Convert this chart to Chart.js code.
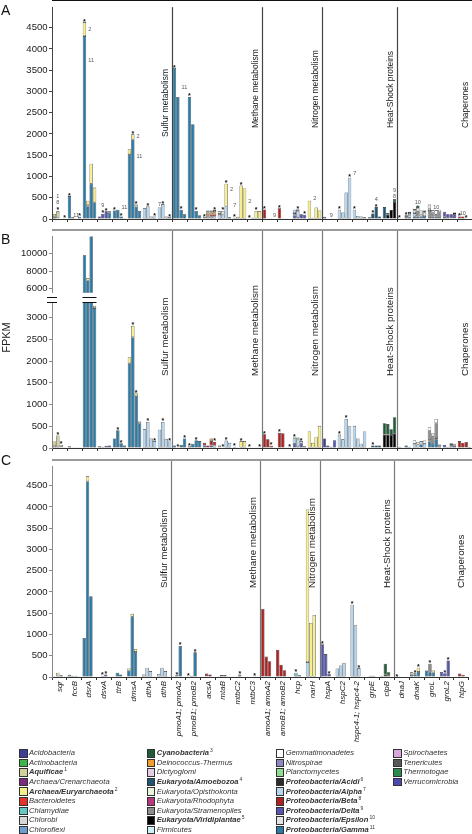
<!DOCTYPE html>
<html><head><meta charset="utf-8">
<script src="https://cdn.jsdelivr.net/npm/chart.js@4.4.1/dist/chart.umd.min.js"></script>
<style>
html,body{margin:0;padding:0;background:#fff}
body{width:472px;height:834px;position:relative;overflow:hidden;font-family:"Liberation Sans",Arial,Helvetica,sans-serif;color:#222}
canvas{position:absolute;left:0}
.pl{position:absolute;font-size:14px;line-height:14px;color:#111}
#fpkm{position:absolute;font-size:11px;line-height:11px;left:-11px;top:332px;width:34px;text-align:center;transform:rotate(-90deg)}
.lg{position:absolute;font-size:7.6px;line-height:9px;font-style:italic;color:#333;white-space:nowrap}
.sw{position:absolute;width:6.5px;height:6.5px;border:0.8px solid #333}
.lg sup{font-size:5px;vertical-align:3px;line-height:0;font-style:normal;font-weight:normal;margin-left:1px}
</style></head>
<body>
<canvas id="cA" width="472" height="229" style="top:0px"></canvas>
<canvas id="cBu" width="472" height="71" style="top:229px"></canvas>
<canvas id="cBl" width="472" height="230" style="top:229px"></canvas>
<canvas id="cC" width="472" height="290" style="top:459px"></canvas>
<div class="pl" style="left:1px;top:3px">A</div>
<div class="pl" style="left:1px;top:232px">B</div>
<div class="pl" style="left:1px;top:453px">C</div>
<div id="fpkm">FPKM</div>
<div id="legend"></div>
<script>
const FONT = '"Liberation Sans", Arial, Helvetica, sans-serif';

// ---------- categories ----------
const genes = ['sqr','fccB','dsrA','dsvA','ttrB','dmsA','dthA','dthB','pmoA1; pmoA2','pmoB1; pmoB2','acsA','mtaB','mtbC2','mtbC3','amoA1; amoA2','amoB1; amoB2','hcp','narH','hspA','hspC2','hspc4-1; hspc4-2','grpE','clpB','dnaJ','dnaK','groL','groL2','htpG'];
const sections = ['Sulfur metabolism','Methane metabolism','Nitrogen metabolism','Heat-Shock proteins','Chaperones'];
const sectionEnds = [8,14,18,23,28];

// ---------- tick labels ----------
const ticksA = [0,500,1000,1500,2000,2500,3000,3500,4000,4500];
const ticksBlow = [0,500,1000,1500,2000,2500,3000];
const ticksBup = [6000,8000,10000];
const ticksC = [0,500,1000,1500,2000,2500,3000,3500,4000,4500];

// ---------- taxa (legend) ----------
const taxKeys = ['aci','act','aqu','cre','eur','bac','chl','cho','chf','cya','dei','dic','amo','opi','rho','str','vir','fir','gem','nit','pla','pac','alp','bet','del','eps','gam','spi','ten','the','ver'];
const taxNames = ['Acidobacteria','Actinobacteria','Aquificae','Archaea/Crenarchaeota','Archaea/Euryarchaeota','Bacteroidetes','Chlamydiae','Chlorobi','Chloroflexi','Cyanobacteria','Deinococcus-Thermus','Dictyoglomi','Eukaryota/Amoebozoa','Eukaryota/Opisthokonta','Eukaryota/Rhodophyta','Eukaryota/Stramenopiles','Eukaryota/Viridiplantae','Firmicutes','Gemmatimonadetes','Nitrospirae','Planctomycetes','Proteobacteria/Acidi','Proteobacteria/Alpha','Proteobacteria/Beta','Proteobacteria/Delta','Proteobacteria/Epsilon','Proteobacteria/Gamma','Spirochaetes','Tenericutes','Thermotogae','Verrucomicrobia'];
const taxSup = ['','','1','','2','','','','','3','','','4','','','','5','','','','','6','7','8','9','10','11','','','',''];
const taxColors = ['#3b3d96','#3cb54b','#d4d09c','#7b2a80','#f7ef8a','#e3342b','#62c9c5','#d7d7d7','#6e9ecd','#1f5c35','#f39b2d','#e5cee5','#1e5472','#eaf5dd','#b8377f','#8c8c8c','#000000','#cdeff8','#ffffff','#8d88c3','#90dc90','#2b2b2b','#b7d6ef','#b12020','#5654b3','#e4e4e4','#2b7ba7','#dba4dd','#595959','#2b8b4e','#4b4ab1'];
const stackOrder = ['gam','amo','vir','pac','aci','del','nit','alp','bet','bac','dei','str','gem','eps','chl','pla','aqu','cya','eur'];

// ---------- Panel A values (per gene: 4 samples) ----------
const A_gam = [[40,10,10,5],[540,40,10,50],[4300,300,830,390],[0,0,0,150],[200,220,60,20],[1520,1870,290,190],0,0,[3550,2870,220,110],[2870,2230,190,90],0,0,0,0,0,0,0,0,0,0,0,0,0,[10,20,40,30],[60,60,50,70],[40,50,50,40],[50,30,20,20],0];
const A_eur = [[0,20,0,0],0,[330,90,470,350],0,0,[120,120,40,0],0,0,0,0,0,[0,0,530,40],[20,40,790,720],[10,30,190,180],0,0,0,[430,30,270,200],0,0,0,0,0,0,0,0,0,0];
const A_aqu = [[60,150,0,0],0,[0,40,0,0],0,0,[0,0,10,0],0,0,0,0,0,0,0,0,0,0,0,0,0,0,0,0,0,0,0,0,0,0];
const A_eps = [[20,10,0,0],0,0,0,0,0,0,0,0,0,0,[60,90,0,0],0,0,0,0,[0,40,0,0],0,0,0,0,0,0,[0,0,0,50],[60,80,100,80],[100,60,0,60],0,0];
const A_del = [0,0,0,[60,120,180,30],0,0,0,0,0,0,0,0,0,0,0,0,[80,40,110,100],0,[50,10,20,10],0,0,0,0,0,0,0,[120,80,90,100],0];
const A_alp = [0,0,0,0,0,0,[250,300,60,60],[270,350,60,40],0,0,[0,50,50,60],[100,100,300,0],[10,10,0,0],0,0,0,[80,150,0,0],0,0,[220,150,625,970],[220,70,60,40],0,0,[0,0,30,60],[80,0,50,0],0,0,0];
const A_bet = [0,0,0,0,0,0,0,0,0,0,[0,0,50,0],0,0,0,[225,15,15,10],[250,20,15,10],0,0,0,0,0,0,0,0,0,0,0,[60,60,20,10]];
const A_bac = [0,0,0,0,0,0,0,0,0,0,[20,40,0,40],0,0,0,0,0,0,0,0,0,0,0,0,0,0,0,0,0];
const A_dei = [0,0,0,0,0,0,0,0,0,0,[20,60,50,60],0,0,0,0,0,0,0,0,0,0,0,0,0,0,0,0,0];
const A_str = [0,0,0,0,0,0,0,0,0,0,[0,50,50,50],[20,0,0,0],0,0,0,0,0,0,0,0,0,0,0,0,[0,120,0,0],[150,100,60,120],0,0];
const A_nit = [0,0,0,0,0,0,0,0,0,0,0,0,0,0,0,0,[60,0,0,0],0,0,0,0,0,0,0,0,0,0,0];
const A_amo = [0,0,0,0,0,0,0,0,0,0,0,0,0,0,0,0,0,0,0,0,0,[40,130,280,60],[280,0,0,0],0,0,0,0,0];
const A_vir = [0,0,0,0,0,0,0,0,0,0,0,0,0,0,0,0,0,0,0,0,0,0,[0,100,210,400],0,0,0,0,0];
const A_cya = [0,0,0,0,0,0,0,0,0,0,0,0,0,0,0,0,0,0,0,0,0,0,[0,40,0,70],[0,0,20,30],[40,60,0,50],0,[0,0,0,30],0];
const A_gem = [0,0,0,0,0,0,0,0,0,0,0,0,0,0,0,0,0,0,0,0,0,0,0,0,0,[50,0,100,0],0,0];

// ---------- Panel B values ----------
const B_gam = [[0,0,20,20],[40,15,20,20],[9785,6930,11950,3220],0,[220,410,110,60],[1950,2550,1200,570],0,0,[60,20,70,220],[40,100,180,160],0,[20,0,0,0],0,[10,10,20,20],0,0,0,0,0,0,0,0,0,[30,20,60,30],[0,0,80,0],[150,100,200,40],0,0];
const B_eur = [0,0,[0,250,0,50],0,0,[140,260,60,40],0,0,0,0,0,0,[0,0,160,160],0,0,0,0,[380,120,260,510],0,0,0,0,0,0,0,0,0,0];
const B_aqu = [[100,250,50,0],0,0,0,0,0,0,0,0,0,0,0,0,0,0,0,0,0,0,0,0,0,0,0,0,0,0,0];
const B_eps = [[50,40,0,0],0,0,0,0,0,0,0,0,0,0,0,0,0,0,0,0,0,0,0,0,0,0,0,[0,60,0,0],[0,80,0,0],0,0];
const B_del = [0,0,0,[40,30,50,60],0,0,0,0,0,0,[60,0,60,0],0,0,0,0,0,[100,40,100,40],0,[0,60,30,180],0,0,0,0,0,0,0,[70,30,40,50],0];
const B_aci = [0,0,0,0,0,0,0,0,0,0,0,0,0,0,0,0,0,0,[220,0,0,0],0,0,0,0,0,0,0,0,0];
const B_alp = [0,0,0,0,0,0,[430,600,220,160],[420,600,210,150],0,0,[0,0,0,60],[40,20,170,120],[30,20,0,0],0,0,0,[120,150,60,0],0,0,[310,200,670,500],[510,220,100,380],0,0,0,[100,80,80,100],0,0,0];
const B_bet = [0,0,0,0,0,0,0,0,0,0,[60,60,100,80],0,0,0,[315,200,50,20],[350,340,20,20],0,0,0,0,0,0,0,0,0,0,0,[160,120,140,0]];
const B_bac = [0,0,0,0,0,0,0,0,0,0,0,0,0,0,0,0,[20,0,0,0],0,0,0,0,0,0,0,0,[30,0,30,0],0,0];
const B_dei = [0,0,0,0,0,0,0,0,0,0,[0,0,60,0],0,0,0,0,0,0,0,0,0,0,0,0,0,0,0,0,[0,0,0,30]];
const B_pla = [0,0,0,0,0,0,0,0,0,0,0,0,0,0,0,0,[0,50,0,0],0,0,0,0,0,0,0,0,0,0,0];
const B_amo = [0,0,0,0,0,0,0,0,0,0,0,0,0,0,0,0,0,0,0,0,0,[20,60,60,60],0,0,0,0,0,0];
const B_vir = [0,0,0,0,0,0,0,0,0,0,0,0,0,0,0,0,0,0,0,0,0,0,[310,310,300,330],0,0,0,0,0];
const B_cya = [0,0,0,0,0,0,0,0,0,0,0,0,0,0,0,0,0,0,0,0,0,0,[260,240,130,380],0,0,0,[0,0,40,20],0];
const B_str = [0,0,0,0,0,0,0,0,0,0,0,0,0,0,0,0,0,0,0,0,0,0,0,0,0,[220,160,340,40],0,0];
const B_gem = [0,0,0,0,0,0,0,0,0,0,0,0,0,0,0,0,0,0,0,0,0,0,0,0,[80,0,0,70],[80,0,100,0],[0,0,30,30],0];

// ---------- Panel C values ----------
const C_gam = [0,[55,30,30,20],[920,4600,1900,0],0,[20,100,60,10],[150,1420,590,0],0,0,[5,40,730,10],[5,30,580,10],0,0,0,[0,0,5,0],0,0,0,0,0,0,0,0,0,[0,10,10,0],[50,60,120,0],[150,110,100,0],0,0];
const C_eur = [0,0,[0,120,0,0],0,0,[50,65,70,0],0,0,0,0,0,0,0,0,0,0,0,[3590,1270,1460,0],0,0,0,0,0,0,[0,0,100,0],[0,0,50,0],0,0];
const C_aqu = [[20,100,40,10],0,0,0,0,0,0,0,0,0,0,0,[5,20,40,10],0,0,0,0,0,0,0,0,0,0,0,[60,0,0,0],0,0,0];
const C_del = [0,0,0,[10,30,60,10],0,0,0,0,0,0,[0,20,10,0],0,0,0,0,0,0,0,[770,540,70,0],0,0,0,0,0,0,0,[120,90,390,0],0];
const C_alp = [0,0,0,0,0,0,[60,220,140,20],[70,220,140,20],0,0,0,0,0,0,0,0,0,[350,0,0,0],0,[200,270,330,0],[1700,1220,210,0],0,0,0,0,0,0,0];
const C_bet = [0,0,0,0,0,0,0,0,0,0,[10,60,50,10],0,0,0,[1600,480,370,0],[640,290,160,0],0,0,0,0,0,0,0,0,0,0,0,[0,80,50,20]];
const C_str = [0,0,0,0,0,0,0,0,0,0,0,[5,45,45,5],0,0,0,0,0,0,0,0,0,0,0,0,0,[0,200,0,0],0,0];
const C_eps = [0,0,0,0,0,0,0,0,0,0,0,0,0,0,0,0,0,0,0,0,0,0,0,0,[0,30,0,0],0,0,0];
const C_chl = [0,0,0,0,0,0,0,0,0,0,0,0,0,0,0,0,[0,100,40,0],0,0,0,0,0,0,0,0,0,0,0];
const C_amo = [0,0,0,0,0,0,0,0,0,0,0,0,0,0,0,0,0,0,0,0,0,[10,30,30,10],0,0,0,0,0,0];
const C_vir = [0,0,0,0,0,0,0,0,0,0,0,0,0,0,0,0,0,0,0,0,0,0,[30,50,40,10],0,0,0,0,0];
const C_cya = [0,0,0,0,0,0,0,0,0,0,0,0,[0,0,20,0],0,0,0,0,0,0,0,0,0,[0,260,70,0],0,0,0,0,0];

// ---------- annotations: [gene, sample, lines above bar] / [gene, sample, text, value] ----------
const A_marks = [[0,1,['1','8','*']],[0,3,['*']],[1,0,['*']],[1,2,['11']],[1,3,['*']],[2,0,['*']],[3,1,['9','*']],[3,2,['*']],[4,0,['*']],[4,2,['*']],[5,1,['*']],[5,2,['*']],[6,1,['*']],[6,3,['*']],[7,0,['7']],[7,1,['*']],[7,3,['*']],[8,0,['*']],[8,2,['*']],[9,0,['*']],[9,2,['*']],[10,0,['*']],[10,3,['*']],[11,1,['*']],[11,2,['*']],[12,0,['*']],[12,2,['*']],[13,0,['*']],[13,2,['*']],[14,0,['*']],[14,3,['9']],[15,0,['*']],[16,1,['*']],[16,3,['*']],[18,2,['9']],[19,0,['*']],[19,3,['*']],[20,0,['*']],[21,1,['*']],[21,2,['4','*']],[22,3,['9','8']],[23,0,['*']],[23,2,['*']],[24,1,['10']],[25,2,['10']],[27,0,['*']],[27,1,['10']],[27,2,['*']]];
const A_side = [[2,0,'2',4450],[2,0,'11',3730],[4,1,'11',260],[5,1,'2',1930],[5,1,'11',1460],[8,1,'11',3100],[11,2,'2',700],[11,3,'7',320],[12,3,'2',420],[17,0,'2',480],[19,3,'7',1080]];
const B_marks = [[0,1,['*']],[0,2,['*']],[4,1,['*']],[4,2,['*']],[5,1,['*']],[5,2,['*']],[6,1,['*']],[6,3,['*']],[7,1,['*']],[7,3,['*']],[8,1,['*']],[8,3,['*']],[9,0,['*']],[9,2,['*']],[10,3,['*']],[11,1,['*']],[11,2,['*']],[12,0,['*']],[12,2,['*']],[13,0,['*']],[13,3,['*']],[14,0,['*']],[14,2,['*']],[15,0,['*']],[15,3,['*']],[16,0,['*']],[16,2,['*']],[19,0,['*']],[19,2,['*']],[21,1,['*']]];
const C_marks = [[3,1,['*']],[3,2,['*']],[8,1,['*']],[8,2,['*']],[9,0,['*']],[9,2,['*']],[12,2,['*']],[13,2,['*']],[16,1,['*']],[18,0,['*']],[18,2,['*']],[20,0,['*']],[20,2,['*']],[23,0,['*']],[24,1,['*']],[24,2,['*']],[25,1,['*']],[26,1,['*']],[26,2,['*']]];

// ---------- build ----------
const panelA = {gam:A_gam,eur:A_eur,aqu:A_aqu,eps:A_eps,del:A_del,alp:A_alp,bet:A_bet,bac:A_bac,dei:A_dei,str:A_str,nit:A_nit,amo:A_amo,vir:A_vir,cya:A_cya,gem:A_gem};
const panelB = {gam:B_gam,eur:B_eur,aqu:B_aqu,eps:B_eps,del:B_del,aci:B_aci,alp:B_alp,bet:B_bet,bac:B_bac,dei:B_dei,pla:B_pla,amo:B_amo,vir:B_vir,cya:B_cya,str:B_str,gem:B_gem};
const panelC = {gam:C_gam,eur:C_eur,aqu:C_aqu,del:C_del,alp:C_alp,bet:C_bet,str:C_str,eps:C_eps,chl:C_chl,amo:C_amo,vir:C_vir,cya:C_cya};

const col = k => taxColors[taxKeys.indexOf(k)];
function cell(arr,g,s){ const v = arr[g]; return v ? v[s] : 0; }
function buildDatasets(panel){
  const ds=[];
  stackOrder.forEach(k=>{
    if(!panel[k]) return;
    for(let s=0;s<4;s++){
      ds.push({label:k, stack:'s'+s,
        data: genes.map((_,g)=>{const v=cell(panel[k],g,s); return v>0?v:null;}),
        backgroundColor: col(k), borderColor:'#2a2a2a', borderWidth:0.6, borderSkipped:false,
        categoryPercentage:0.9, barPercentage:1.0, clip:0});
    }
  });
  return ds;
}
function total(panel,g,s){ let t=0; for(const k in panel) t+=cell(panel[k],g,s); return t; }

const decor = {
  id:'decor',
  afterDraw(chart, args, o){
    const ctx=chart.ctx, ca=chart.chartArea, xs=chart.scales.x, ys=chart.scales.y;
    const slot = xs.getPixelForValue(1)-xs.getPixelForValue(0);
    const bound = i => xs.getPixelForValue(i-1)+slot/2;
    ctx.save();
    if(o.topLine){
      ctx.strokeStyle=o.topLine.color; ctx.lineWidth=o.topLine.width;
      ctx.beginPath(); ctx.moveTo(ca.left, o.topLine.y); ctx.lineTo(chart.width, o.topLine.y); ctx.stroke();
    }
    if(o.divColor){
      ctx.strokeStyle=o.divColor; ctx.lineWidth=1.2;
      const top = (o.divTop!=null)?o.divTop:ca.top;
      sectionEnds.slice(0,-1).forEach(e=>{ const x=Math.round(bound(e))+0.5;
        ctx.beginPath(); ctx.moveTo(x, top); ctx.lineTo(x, ca.bottom); ctx.stroke(); });
    }
    if(o.labels){
      ctx.fillStyle='#1a1a1a'; ctx.font = o.labels.size+'px '+FONT; ctx.textAlign='left'; ctx.textBaseline='alphabetic';
      sections.forEach((t,i)=>{ const x=bound(sectionEnds[i])-4.5; const y=o.labels.bottom[i];
        ctx.save(); ctx.translate(x,y); ctx.rotate(-Math.PI/2); ctx.fillText(t,0,0); ctx.restore(); });
    }
    if(o.marks){
      const panel=o.panel;
      o.marks.forEach(([g,s,lines])=>{
        const di = chart.data.datasets.findIndex(d=>d.stack==='s'+s);
        const x = chart.getDatasetMeta(di).data[g].x;
        let y = ys.getPixelForValue(total(panel,g,s)) - 1.5;
        for(let j=lines.length-1;j>=0;j--){
          const t=lines[j];
          if(t==='*'){ ctx.fillStyle='#111'; ctx.font='bold 7px '+FONT; ctx.textAlign='center'; ctx.textBaseline='alphabetic'; ctx.fillText('*',x,y+3); y-=5; }
          else { ctx.fillStyle='#555'; ctx.font='5.5px '+FONT; ctx.textAlign='center'; ctx.textBaseline='alphabetic'; ctx.fillText(t,x,y); y-=6; }
        }
      });
    }
    if(o.side){
      o.side.forEach(([g,s,t,v])=>{
        const di = chart.data.datasets.findIndex(d=>d.stack==='s'+s);
        const x = chart.getDatasetMeta(di).data[g].x + slot*0.12 + 2;
        ctx.fillStyle='#555'; ctx.font='5.5px '+FONT; ctx.textAlign='left'; ctx.textBaseline='middle';
        ctx.fillText(t, x, ys.getPixelForValue(v));
      });
    }
    if(o.breakY!=null){
      ctx.strokeStyle='#111'; ctx.lineWidth=1;
      const y=o.breakY+0.5;
      ctx.beginPath(); ctx.moveTo(ca.left-5,y); ctx.lineTo(ca.left+5,y);
      const cx=xs.getPixelForValue(2);
      ctx.moveTo(cx-slot/2+0.5,y); ctx.lineTo(cx+slot/2-0.5,y); ctx.stroke();
    }
    ctx.restore();
  }
};

function makeChart(id, panel, c){
  return new Chart(document.getElementById(id), {
    type:'bar',
    data:{labels:genes, datasets:buildDatasets(panel)},
    options:{
      responsive:false, animation:false, devicePixelRatio:1,
      layout:{padding:{top:c.padTop,left:0,right:0,bottom:0}},
      plugins:{legend:{display:false}, tooltip:{enabled:false}, decor:c.decor},
      scales:{
        x:{stacked:true, display:c.xDisplay, offset:true,
           grid:{display:true, offset:true, drawOnChartArea:false, drawTicks:true, tickLength:3, color:'#333', lineWidth:1},
           border:{display:true, color:'#333', width:1},
           ticks:{display:c.xLabels, autoSkip:false, minRotation:90, maxRotation:90, padding:1, color:'#1a1a1a', font:{family:FONT, size:8, style:'italic'}},
           afterFit:s=>{s.height=c.xH;}},
        y:{stacked:true, min:c.min, max:c.max,
           afterBuildTicks:s=>{s.ticks=c.ticks.map(v=>({value:v}));},
           grid:{drawOnChartArea:false, drawTicks:true, tickLength:3, color:c.axisColor},
           border:{display:true, color:c.axisColor, width:1},
           ticks:{padding:1.5, color:'#1a1a1a', font:{family:FONT,size:9.5}, callback:v=>String(v)},
           afterFit:s=>{s.width=52;}}
      }
    },
    plugins:[decor]
  });
}

makeChart('cA', panelA, {padTop:1, xDisplay:true, xLabels:false, xH:10, min:0, max:4980, ticks:ticksA, axisColor:'#444',
  decor:{panel:panelA, topLine:{y:0.5,width:1,color:'#111'}, divColor:'#444', labels:{size:8.5, bottom:[137,128,128,128,128]}, marks:A_marks, side:A_side}});
makeChart('cBu', panelB, {padTop:2, xDisplay:false, xLabels:false, xH:0, min:5535, max:11953, ticks:ticksBup, axisColor:'#888',
  decor:{panel:panelB, topLine:{y:1,width:2,color:'#9a9a9a'}, breakY:68}});
makeChart('cBl', panelB, {padTop:73, xDisplay:true, xLabels:false, xH:11, min:0, max:3359, ticks:ticksBlow, axisColor:'#888',
  decor:{panel:panelB, divColor:'#7a7a7a', divTop:2, labels:{size:9.8, bottom:[147,147,147,147,147]}, marks:B_marks, breakY:73}});
makeChart('cC', panelC, {padTop:2, xDisplay:true, xLabels:true, xH:72, min:0, max:4959, ticks:ticksC, axisColor:'#888',
  decor:{panel:panelC, topLine:{y:1,width:2,color:'#9a9a9a'}, divColor:'#7a7a7a', divTop:2, labels:{size:9.8, bottom:[129,129,129,129,129]}, marks:C_marks}});

// ---------- legend ----------
const lg=document.getElementById('legend');
const colX=[19,146.7,275.7,393.3];
const boldKeys=['aqu','eur','cya','amo','vir','pac','alp','bet','del','eps','gam'];
taxKeys.forEach((k,i)=>{
  const c=Math.floor(i/9), r=i%9, cy=753+r*9.6;
  const sw=document.createElement('div'); sw.className='sw';
  sw.style.left=colX[c]+'px'; sw.style.top=(cy-4)+'px'; sw.style.background=taxColors[i];
  lg.appendChild(sw);
  const t=document.createElement('div'); t.className='lg';
  t.style.left=(colX[c]+10)+'px'; t.style.top=(cy-4.8)+'px';
  if(boldKeys.includes(k)) t.style.fontWeight='bold';
  t.textContent=taxNames[i];
  if(taxSup[i]){ const sp=document.createElement('sup'); sp.textContent=taxSup[i]; t.appendChild(sp); }
  lg.appendChild(t);
});
</script>
</body></html>
